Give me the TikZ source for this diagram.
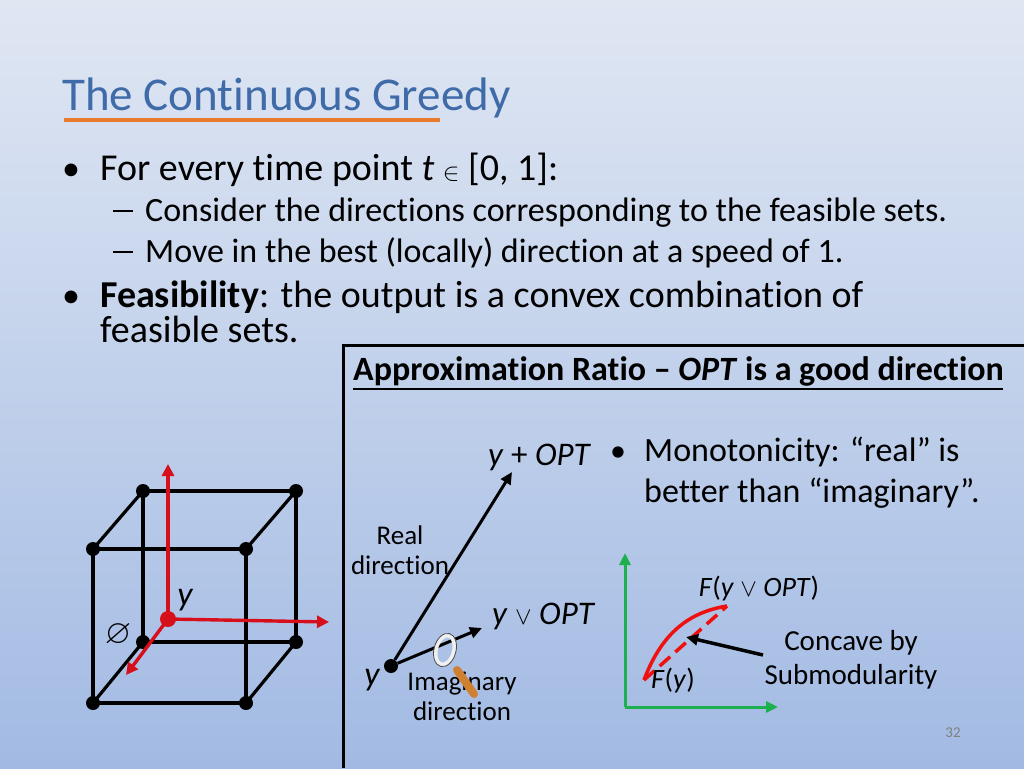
\documentclass[tikz,border=0pt]{standalone}
\usepackage{fontspec}
\setmainfont[RawFeature=-liga]{Carlito}
\usepackage{amssymb}
\usetikzlibrary{arrows.meta}
\definecolor{titleblue}{HTML}{3F6BA8}
\definecolor{uline}{HTML}{E97A2B}
\definecolor{cred}{HTML}{D60F1A}
\definecolor{cbright}{HTML}{F01010}
\definecolor{cgreen}{HTML}{1DB04E}
\definecolor{bgtop}{HTML}{E0E7F3}
\definecolor{bgbot}{HTML}{A2BAE3}
\tikzset{
  vtx/.style={circle,fill=black,inner sep=0pt,minimum size=14pt},
  edge/.style={line width=3.2pt},
  redarr/.style={line width=3.4pt,draw=cred,-{Triangle[length=12pt,width=12pt]}},
  blk/.style={line width=3pt,-{Triangle[length=12pt,width=11pt]}},
  grn/.style={line width=3pt,draw=cgreen,-{Triangle[length=12pt,width=11pt]}},
  txt/.style={inner sep=0pt,anchor=base west,font=\fontsize{38}{42}\selectfont},
  sub/.style={inner sep=0pt,anchor=base west,font=\fontsize{34}{38}\selectfont},
  sm/.style={inner sep=0pt,font=\fontsize{28}{32}\selectfont,align=center},
}
\newcommand{\bul}{\makebox[38pt][l]{\fontsize{36}{30}\selectfont•}}
\newcommand{\subdash}{\makebox[32pt][l]{\rule[9pt]{20pt}{2pt}}}
\begin{document}
\begin{tikzpicture}[x=1pt,y=-1pt]
\shade[top color=bgtop,bottom color=bgbot] (0,0) rectangle (1024,768);
\path[use as bounding box] (0,0) rectangle (1024,768);
% title
\node[anchor=base west,inner sep=0pt,text=titleblue,font=\fontsize{47}{50}\selectfont] (title) at (62,110) {The Continuous Greedy};
\draw[uline,line width=4pt] (64,120) -- (440,120);
% bullets
\node[txt] (b1) at (62,180) {\bul For every time point \textit{t} $\in$ [0, 1]:};
\node[sub] (s1) at (113,221) {\subdash Consider the directions corresponding to the feasible sets.};
\node[sub] (s2) at (113,262) {\subdash Move in the best (locally) direction at a speed of 1.};
\node[txt] (b2) at (62,307) {\bul \textbf{Feasibility}: the output is a convex combination of};
\node[txt] (b2b) at (100,342) {feasible sets.};
% panel
\draw[line width=3pt] (343,768) -- (343,345) -- (1024,345);
\node[anchor=base west,inner sep=0pt,font=\fontsize{34}{36}\selectfont\bfseries] (ar) at (353,380) {Approximation Ratio – \textit{OPT} is a good direction};
\draw[line width=1.3pt] (353,389) -- (1003,389);
% cube
\coordinate (c1) at (143,491); \coordinate (c2) at (296,491);
\coordinate (c3) at (143,642); \coordinate (c4) at (296,642);
\coordinate (c5) at (93,549); \coordinate (c6) at (246,549);
\coordinate (c7) at (93,703); \coordinate (c8) at (246,703);
\draw[edge] (c1)--(c2)--(c4)--(c3)--cycle;
\draw[edge] (c5)--(c6)--(c8)--(c7)--cycle;
\draw[edge] (c1)--(c5) (c2)--(c6) (c3)--(c7) (c4)--(c8);
\foreach \c in {c1,c2,c3,c4,c5,c6,c7,c8} \node[vtx] at (\c) {};
\coordinate (y) at (168,619);
\coordinate (yu) at (168,464); \coordinate (yr) at (329,622); \coordinate (yd) at (126,675);
\draw[redarr] (y) -- (yu);
\draw[redarr] (y) -- (yr);
\draw[redarr] (y) -- (yd);
\node[circle,fill=cred,inner sep=0pt,minimum size=16pt] (yp) at (y) {};
\node[inner sep=0pt,font=\fontsize{34}{36}\selectfont\itshape] (ylab) at (185,600) {y};
\node[inner sep=0pt,font=\fontsize{34}{36}\selectfont] (empty) at (118,635) {$\varnothing$};
% vectors
\node[circle,fill=black,inner sep=0pt,minimum size=14pt] (v0) at (391,666) {};
\coordinate (vopt) at (512,472);
\coordinate (vor) at (482,628);
\draw[blk] (v0) -- (vopt);
\draw[blk] (v0) -- (vor);
\node[inner sep=0pt,font=\fontsize{34}{36}\selectfont\itshape] (vy) at (372,680) {y};
\node[anchor=base west,inner sep=0pt,font=\fontsize{33}{36}\selectfont] (lopt) at (488,465) {\textit{y} + \textit{OPT}};
\node[anchor=base west,inner sep=0pt,font=\fontsize{33}{36}\selectfont] (lor) at (492,624) {\textit{y} $\vee$ \textit{OPT}};
\node[sm,font=\fontsize{27}{30}\selectfont] (real) at (400,550) {Real\\direction};
% imaginary label, then magnifier on top
\node[sm,font=\fontsize{27}{30}\selectfont] (imag) at (462,696) {Imaginary\\direction};
\draw[line width=8pt,draw=brown!75!orange,line cap=round] (457,670) -- (474,694);
\draw[line width=4pt,draw=white!88!gray,rotate around={-15:(445,650)}] (445,650) ellipse (9pt and 15pt);
\draw[line width=0.8pt,draw=gray!60!black,rotate around={-15:(445,650)}] (445,650) ellipse (11pt and 17pt);
% bullet right
\node[sub] (b3) at (610,461) {\makebox[34pt][l]{\fontsize{32}{28}\selectfont•}Monotonicity: “real” is};
\node[sub] (b3b) at (644,502) {better than “imaginary”.};
% graph
\coordinate (o) at (625,707);
\draw[grn] (o) -- (625,553);
\draw[grn] (o) -- (778,707);
\coordinate (f0) at (644,680); \coordinate (f1) at (727,606);
\draw[cbright,line width=3.5pt] (f0) .. controls (662,632) and (690,612) .. (f1);
\draw[cbright,line width=3.5pt,dash pattern=on 14pt off 7pt] (f0) -- (f1);
\node[sm] (fopt) at (759,589) {\textit{F}(\textit{y} $\vee$ \textit{OPT})};
\node[sm] (fy) at (673,681) {\textit{F}(\textit{y})};
\node[sm,font=\fontsize{29}{34}\selectfont] (conc) at (851,660) {Concave by\\Submodularity};
\coordinate (ct) at (686,637);
\draw[blk,line width=3.5pt] (763,655) -- (ct);
\node[inner sep=0pt,font=\fontsize{15}{16}\selectfont,text=gray] (pg) at (953,733) {32};
\end{tikzpicture}
\end{document}
